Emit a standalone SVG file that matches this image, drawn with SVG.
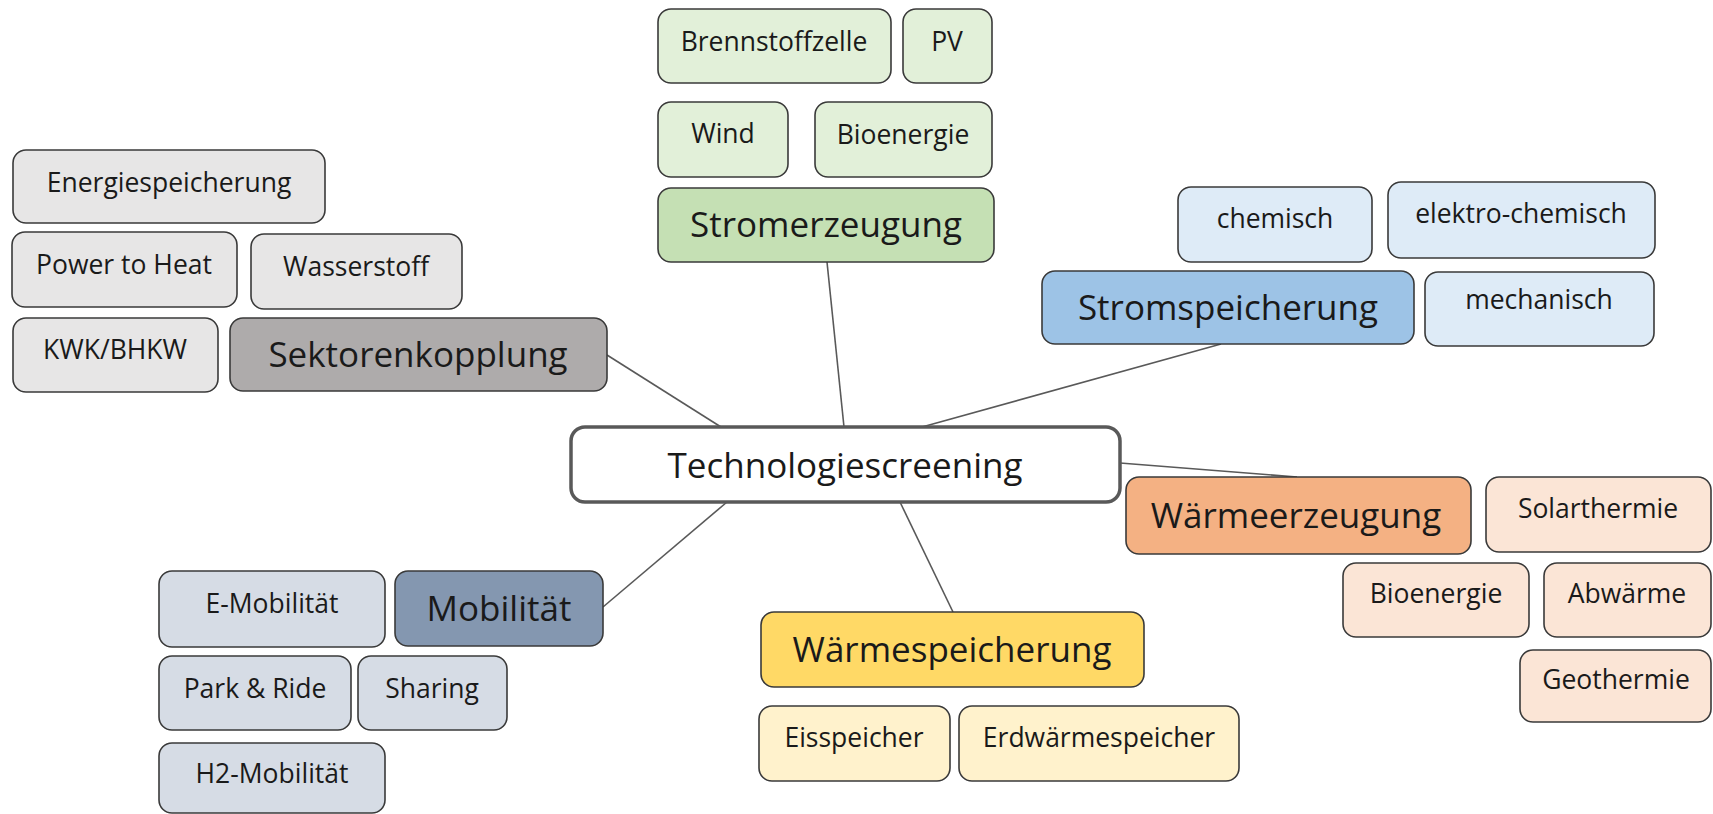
<svg xmlns="http://www.w3.org/2000/svg" width="1713" height="814" viewBox="0 0 1713 814">
<style>
  .n rect{stroke:#3a3a3a;stroke-width:1.6}
  text{font-family:"Open Sans","Noto Sans","Liberation Sans",sans-serif;fill:#1a1a1a;text-anchor:middle}
  .m{font-size:35px}
  .s{font-size:26.5px}
  .gS{fill:#e7e6e6}.gM{fill:#aeabab}
  .grS{fill:#e2f0d9}.grM{fill:#c5e0b4}
  .bS{fill:#deebf7}.bM{fill:#9dc3e6}
  .oS{fill:#fbe5d6}.oM{fill:#f4b183}
  .yS{fill:#fff2cc}.yM{fill:#ffd966}
  .mS{fill:#d6dce5}.mM{fill:#8497b0}
  #connectors line{stroke:#595959;stroke-width:1.6}
</style>
<rect width="1713" height="814" fill="#ffffff"/>
<g id="connectors">
  <line x1="607" y1="355" x2="721" y2="427"/>
  <line x1="827" y1="262" x2="844" y2="427"/>
  <line x1="1221" y1="344" x2="922" y2="427"/>
  <line x1="1120" y1="463" x2="1297" y2="477"/>
  <line x1="900" y1="502" x2="953" y2="612"/>
  <line x1="603" y1="607" x2="727" y2="502"/>
</g>
<g id="center">
  <rect x="571" y="427" width="549" height="75" rx="14" fill="#ffffff" stroke="#595959" stroke-width="3.5"/>
  <text class="m" x="845" y="478">Technologiescreening</text>
</g>
<g id="sektorenkopplung" class="n">
  <rect class="gM" x="230" y="318" width="377" height="73" rx="13"/>
  <text class="m" x="418" y="367">Sektorenkopplung</text>
</g>
<g id="energiespeicherung" class="n">
  <rect class="gS" x="13" y="150" width="312" height="73" rx="13"/>
  <text class="s" x="169" y="192">Energiespeicherung</text>
</g>
<g id="powertoheat" class="n">
  <rect class="gS" x="12" y="232" width="225" height="75" rx="13"/>
  <text class="s" x="124" y="274">Power to Heat</text>
</g>
<g id="wasserstoff" class="n">
  <rect class="gS" x="251" y="234" width="211" height="75" rx="13"/>
  <text class="s" x="356" y="276">Wasserstoff</text>
</g>
<g id="kwk" class="n">
  <rect class="gS" x="13" y="318" width="205" height="74" rx="13"/>
  <text class="s" x="115" y="359">KWK/BHKW</text>
</g>
<g id="stromerzeugung" class="n">
  <rect class="grM" x="658" y="188" width="336" height="74" rx="13"/>
  <text class="m" x="826" y="237">Stromerzeugung</text>
</g>
<g id="brennstoffzelle" class="n">
  <rect class="grS" x="658" y="9" width="233" height="74" rx="13"/>
  <text class="s" x="774" y="51">Brennstoffzelle</text>
</g>
<g id="pv" class="n">
  <rect class="grS" x="903" y="9" width="89" height="74" rx="13"/>
  <text class="s" x="947" y="51">PV</text>
</g>
<g id="wind" class="n">
  <rect class="grS" x="658" y="102" width="130" height="75" rx="13"/>
  <text class="s" x="723" y="143">Wind</text>
</g>
<g id="bioenergie-strom" class="n">
  <rect class="grS" x="815" y="102" width="177" height="75" rx="13"/>
  <text class="s" x="903" y="144">Bioenergie</text>
</g>
<g id="stromspeicherung" class="n">
  <rect class="bM" x="1042" y="271" width="372" height="73" rx="13"/>
  <text class="m" x="1228" y="320">Stromspeicherung</text>
</g>
<g id="chemisch" class="n">
  <rect class="bS" x="1178" y="187" width="194" height="75" rx="13"/>
  <text class="s" x="1275" y="228">chemisch</text>
</g>
<g id="elektrochemisch" class="n">
  <rect class="bS" x="1388" y="182" width="267" height="76" rx="13"/>
  <text class="s" x="1521" y="223">elektro-chemisch</text>
</g>
<g id="mechanisch" class="n">
  <rect class="bS" x="1425" y="272" width="229" height="74" rx="13"/>
  <text class="s" x="1539" y="309">mechanisch</text>
</g>
<g id="waermeerzeugung" class="n">
  <rect class="oM" x="1126" y="477" width="345" height="77" rx="13"/>
  <text class="m" x="1296" y="528">Wärmeerzeugung</text>
</g>
<g id="solarthermie" class="n">
  <rect class="oS" x="1486" y="477" width="225" height="75" rx="13"/>
  <text class="s" x="1598" y="518">Solarthermie</text>
</g>
<g id="bioenergie-waerme" class="n">
  <rect class="oS" x="1343" y="563" width="186" height="74" rx="13"/>
  <text class="s" x="1436" y="603">Bioenergie</text>
</g>
<g id="abwaerme" class="n">
  <rect class="oS" x="1544" y="563" width="167" height="74" rx="13"/>
  <text class="s" x="1627" y="603">Abwärme</text>
</g>
<g id="geothermie" class="n">
  <rect class="oS" x="1520" y="650" width="191" height="72" rx="13"/>
  <text class="s" x="1616" y="689">Geothermie</text>
</g>
<g id="waermespeicherung" class="n">
  <rect class="yM" x="761" y="612" width="383" height="75" rx="13"/>
  <text class="m" x="952" y="662">Wärmespeicherung</text>
</g>
<g id="eisspeicher" class="n">
  <rect class="yS" x="759" y="706" width="191" height="75" rx="13"/>
  <text class="s" x="854" y="747">Eisspeicher</text>
</g>
<g id="erdwaermespeicher" class="n">
  <rect class="yS" x="959" y="706" width="280" height="75" rx="13"/>
  <text class="s" x="1099" y="747">Erdwärmespeicher</text>
</g>
<g id="mobilitaet" class="n">
  <rect class="mM" x="395" y="571" width="208" height="75" rx="13"/>
  <text class="m" x="499" y="621">Mobilität</text>
</g>
<g id="emobilitaet" class="n">
  <rect class="mS" x="159" y="571" width="226" height="76" rx="13"/>
  <text class="s" x="272" y="613">E-Mobilität</text>
</g>
<g id="parkride" class="n">
  <rect class="mS" x="159" y="656" width="192" height="74" rx="13"/>
  <text class="s" x="255" y="698">Park &amp; Ride</text>
</g>
<g id="sharing" class="n">
  <rect class="mS" x="358" y="656" width="149" height="74" rx="13"/>
  <text class="s" x="432" y="698">Sharing</text>
</g>
<g id="h2mobilitaet" class="n">
  <rect class="mS" x="159" y="743" width="226" height="70" rx="13"/>
  <text class="s" x="272" y="783">H2-Mobilität</text>
</g>
</svg>
